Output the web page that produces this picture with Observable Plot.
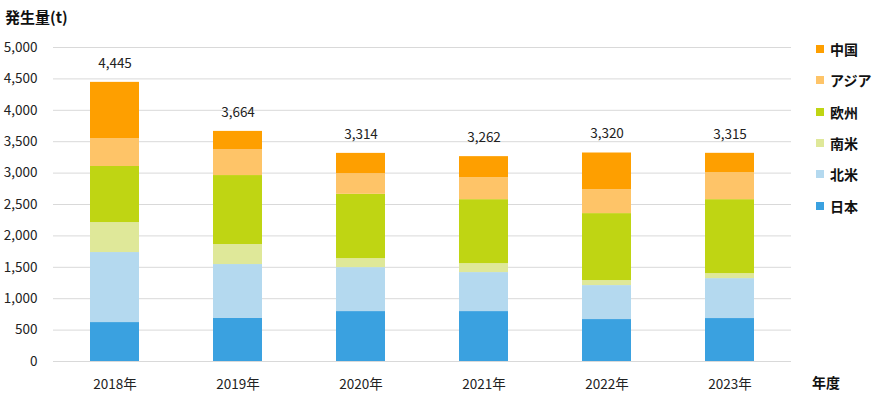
<!DOCTYPE html>
<html>
<head>
<meta charset="utf-8">
<script src="https://cdn.jsdelivr.net/npm/d3@7"></script>
<script src="https://cdn.jsdelivr.net/npm/@observablehq/plot@0.6"></script>
<style>
  html, body { margin: 0; padding: 0; background: #fff; }
  #wrap { position: relative; width: 880px; height: 400px; font-family: "Noto Sans CJK JP", "Noto Sans", sans-serif; }
  #title { position: absolute; left: 5px; top: 6px; font-size: 15px; font-weight: bold; color: #111; }
  #xlabel { position: absolute; left: 812px; top: 372px; font-size: 14px; font-weight: bold; color: #111; }
  #legend { position: absolute; left: 816px; top: 0; }
  .li { position: absolute; left: 0; display: flex; align-items: center; white-space: nowrap; font-size: 14px; font-weight: bold; color: #111; }
  .sw { width: 8px; height: 8px; margin-right: 6px; }
</style>
</head>
<body>
<div id="wrap">
  <div id="chart"></div>
  <div id="title">発生量(t)</div>
  <div id="xlabel">年度</div>
  <div id="legend"></div>
</div>
<script>
const years = ["2018年", "2019年", "2020年", "2021年", "2022年", "2023年"];
const seriesNames = ["日本", "北米", "南米", "欧州", "アジア", "中国"];
const japan        = [620, 685, 795, 795, 668, 684];
const northAmerica = [1115, 859, 700, 621, 541, 636];
const southAmerica = [478, 319, 144, 143, 80, 80];
const europe       = [892, 1098, 1023, 1018, 1066, 1177];
const asia         = [445, 414, 329, 350, 381, 430];
const china        = [895, 289, 323, 335, 584, 308];
const totals       = [4445, 3664, 3314, 3262, 3320, 3315];
const colors = ["#3AA1E0", "#B4D9EF", "#DFE899", "#BFD513", "#FEC468", "#FE9F00"];
const yTicks = [0, 500, 1000, 1500, 2000, 2500, 3000, 3500, 4000, 4500, 5000];

const seriesValues = [japan, northAmerica, southAmerica, europe, asia, china];
const rows = [];
seriesNames.forEach((s, i) => years.forEach((y, j) => rows.push({year: y, series: s, value: seriesValues[i][j]})));
const totalRows = years.map((y, j) => ({year: y, total: totals[j]}));

const fmt = d3.format(",");
const chart = Plot.plot({
  width: 880,
  height: 400,
  marginLeft: 53,
  marginRight: 89,
  marginTop: 47,
  marginBottom: 39,
  style: {fontFamily: "'Noto Sans CJK JP', 'Noto Sans', sans-serif", fontSize: "13.5px", color: "#222", background: "#fff"},
  x: {domain: years, paddingInner: 0.6, paddingOuter: 0.3, label: null, tickSize: 0, tickPadding: 18},
  y: {domain: [0, 5000], ticks: yTicks, tickFormat: fmt, label: null, tickSize: 0, tickPadding: 16},
  color: {domain: seriesNames, range: colors},
  marks: [
    Plot.gridY(yTicks, {stroke: "#d9d9d9", strokeOpacity: 1, strokeWidth: 1}),
    Plot.barY(rows, {x: "year", y: "value", fill: "series", order: seriesNames, inset: 0}),
    Plot.text(totalRows, {x: "year", y: "total", text: d => fmt(d.total), dy: -19, fontSize: 13.5, fill: "#222"})
  ]
});
document.getElementById("chart").appendChild(chart);

const legend = document.getElementById("legend");
const legendOrder = seriesNames.slice().reverse();
legendOrder.forEach((s, k) => {
  const item = document.createElement("div");
  item.className = "li";
  item.style.top = (39 + k * 31.3) + "px";
  const sw = document.createElement("span");
  sw.className = "sw";
  sw.style.background = colors[seriesNames.indexOf(s)];
  const t = document.createElement("span");
  t.textContent = s;
  item.appendChild(sw);
  item.appendChild(t);
  legend.appendChild(item);
});
</script>
</body>
</html>
